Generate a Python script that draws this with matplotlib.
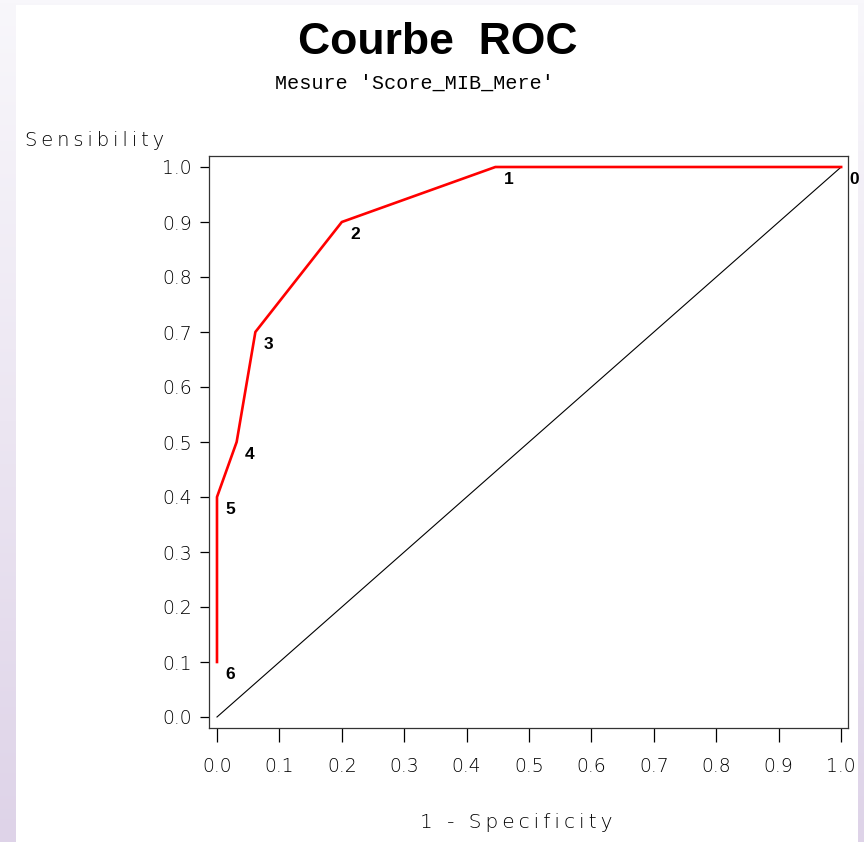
import numpy as np
import matplotlib.pyplot as plt
from matplotlib.patches import Rectangle
from matplotlib.colors import LinearSegmentedColormap

# ROC points (1 - specificity, sensitivity), labelled 0..6
fpr = [1.0, 0.446, 0.2, 0.0615, 0.0315, 0.0, 0.0]
tpr = [1.0, 1.0, 0.9, 0.7, 0.5, 0.4, 0.1]
point_labels = ["0", "1", "2", "3", "4", "5", "6"]
ticks = [0.0, 0.1, 0.2, 0.3, 0.4, 0.5, 0.6, 0.7, 0.8, 0.9, 1.0]

THIN = "\u2009"


def spaced(s):
    return THIN.join(s)


fig = plt.figure(figsize=(8.64, 8.42), dpi=100)

# lavender gradient backdrop with the white panel on top
bg = fig.add_axes([0, 0, 1, 1], zorder=-10)
cmap = LinearSegmentedColormap.from_list("lav", ["#f8f7fb", "#ece6f2", "#ded3e8"])
bg.imshow(np.linspace(0, 1, 256).reshape(-1, 1), cmap=cmap, aspect="auto",
          extent=[0, 1, 0, 1], origin="upper")
bg.add_patch(Rectangle((16 / 864, 0), (858 - 16) / 864, 1 - 5 / 842,
                       facecolor="white", edgecolor="none"))
bg.set_xlim(0, 1)
bg.set_ylim(0, 1)
bg.axis("off")

ax = fig.add_axes([209 / 864, 1 - 728 / 842, (848 - 209) / 864, (728 - 156) / 842])
ax.set_facecolor("white")

ax.plot([0, 1], [0, 1], color="black", lw=0.8)
ax.plot(fpr, tpr, color="#ff0000", lw=1.9)
for x, y, lab in zip(fpr, tpr, point_labels):
    ax.annotate(lab, (x, y), xytext=(6, -9), textcoords="offset points",
                fontsize=12.5, fontweight="bold", family="Liberation Sans",
                va="center", ha="left", annotation_clip=False)

ax.set_xlim(-0.0128, 1.011)
ax.set_ylim(-0.02, 1.02)
ax.set_xticks(ticks)
ax.set_yticks(ticks)
ax.set_xticklabels([f"{t:.1f}" for t in ticks], family="DejaVu Sans",
                   fontweight="light", fontsize=13.5)
ax.set_yticklabels([f"{t:.1f}" for t in ticks], family="DejaVu Sans",
                   fontweight="light", fontsize=13.5)
ax.tick_params(axis="x", length=10, width=0.9, pad=11)
ax.tick_params(axis="y", length=6.5, width=0.9, pad=6)
for sp in ax.spines.values():
    sp.set_linewidth(0.9)
    sp.set_color("#333333")

fig.text(438 / 864, 1 - 42 / 842, "Courbe  ROC", ha="center", va="center",
         fontsize=32, fontweight="bold", family="Liberation Sans")
fig.text(414 / 864, 1 - 83 / 842, "Mesure 'Score_MIB_Mere'", ha="center",
         va="center", fontsize=14.5, family="Liberation Mono")
fig.text(25 / 864, 1 - 141 / 842, spaced("Sensibility"), ha="left",
         va="center", fontsize=14, fontweight="light", family="DejaVu Sans")
fig.text(516 / 864, 1 - 822 / 842, spaced("1 - Specificity"), ha="center",
         va="center", fontsize=14.5, fontweight="light", family="DejaVu Sans")

fig.savefig("out.png", dpi=100)
